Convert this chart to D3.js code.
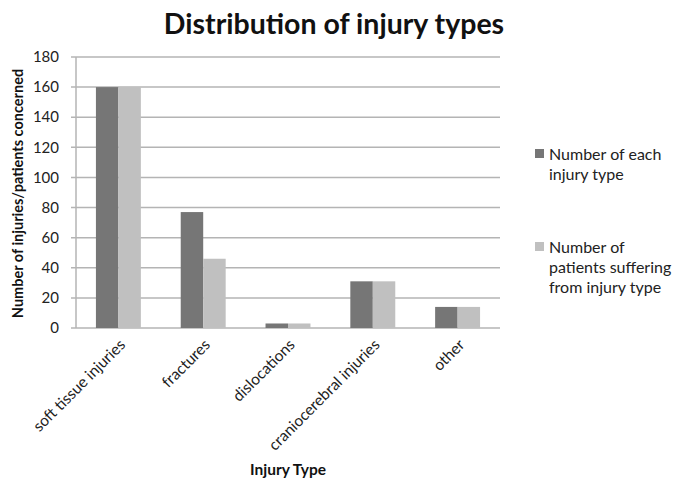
<!DOCTYPE html>
<html>
<head>
<meta charset="utf-8">
<script src="https://cdn.jsdelivr.net/npm/d3@7"></script>
<style>
  body { margin: 0; background: #fff; }
  svg { font-family: Lato, "Open Sans", sans-serif; }
</style>
</head>
<body>
<script>
// chart data
var categories = ['soft tissue injuries', 'fractures', 'dislocations', 'craniocerebral injuries', 'other'];
var injuryCounts = [160, 77, 3, 31, 14];
var patientCounts = [160, 46, 3, 31, 14];
var seriesNames = [['Number of each', 'injury type'], ['Number of', 'patients suffering', 'from injury type']];
var yTicks = [0, 20, 40, 60, 80, 100, 120, 140, 160, 180];

var width = 675, height = 481;
var margin = {top: 57, left: 76, right: 175, bottom: 153};

var svg = d3.select('body').append('svg').attr('width', width).attr('height', height);

var x = d3.scaleBand().domain(categories).range([margin.left, width - margin.right]).paddingInner(0.47).paddingOuter(0.235);
var x1 = d3.scaleBand().domain([0, 1]).range([0, x.bandwidth()]);
var y = d3.scaleLinear().domain([0, 180]).range([height - margin.bottom, margin.top]);
var colors = ['#767676', '#c0c0c0'];

// gridlines
svg.append('g').selectAll('line').data(yTicks).enter().append('line')
  .attr('x1', margin.left - 5).attr('x2', width - margin.right)
  .attr('y1', function(d) { return y(d); }).attr('y2', function(d) { return y(d); })
  .attr('stroke', '#b4b4b4').attr('stroke-width', 1.5);

// y axis line
svg.append('line').attr('x1', margin.left).attr('x2', margin.left)
  .attr('y1', y(180)).attr('y2', y(0)).attr('stroke', '#b4b4b4').attr('stroke-width', 1.5);

// y tick labels
svg.append('g').selectAll('text').data(yTicks).enter().append('text')
  .attr('x', margin.left - 17).attr('y', function(d) { return y(d); }).attr('dy', '0.35em')
  .attr('text-anchor', 'end').attr('font-size', 15).attr('fill', '#222')
  .text(function(d) { return d; });

// bars
var series = [injuryCounts, patientCounts];
series.forEach(function(vals, s) {
  svg.append('g').selectAll('rect').data(vals).enter().append('rect')
    .attr('x', function(d, i) { return x(categories[i]) + x1(s); })
    .attr('width', x1.bandwidth())
    .attr('y', function(d) { return y(d); })
    .attr('height', function(d) { return y(0) - y(d); })
    .attr('fill', colors[s]);
});

// x labels, rotated
svg.append('g').selectAll('text').data(categories).enter().append('text')
  .attr('transform', function(d) { return 'translate(' + (x(d) + x.bandwidth() / 2 + 4) + ',' + (y(0) + 14) + ') rotate(-45)'; })
  .attr('text-anchor', 'end').attr('font-size', 15.5).attr('fill', '#222')
  .attr('dy', '0.35em')
  .text(function(d) { return d; });

// title
svg.append('text').attr('x', 334).attr('y', 34).attr('text-anchor', 'middle')
  .attr('font-size', 28.5).attr('font-weight', 'bold').attr('fill', '#111')
  .text('Distribution of injury types');

// axis titles
svg.append('text').attr('transform', 'translate(18,' + ((y(0) + y(180)) / 2 + 1) + ') rotate(-90)')
  .attr('text-anchor', 'middle').attr('dy', '0.35em').attr('font-size', 14.5).attr('font-weight', 'bold').attr('fill', '#111')
  .text('Number of injuries/patients concerned');

svg.append('text').attr('x', (margin.left + width - margin.right) / 2).attr('y', 475)
  .attr('text-anchor', 'middle').attr('font-size', 15.5).attr('font-weight', 'bold').attr('fill', '#111')
  .text('Injury Type');

// legend
var legendY = [154, 247];
seriesNames.forEach(function(lines, s) {
  svg.append('rect').attr('x', 535).attr('y', legendY[s] - 5).attr('width', 9).attr('height', 9).attr('fill', colors[s]);
  lines.forEach(function(t, k) {
    svg.append('text').attr('x', 549).attr('y', legendY[s] + k * 20).attr('dy', '0.35em')
      .attr('font-size', 16).attr('fill', '#222').text(t);
  });
});
</script>
</body>
</html>
